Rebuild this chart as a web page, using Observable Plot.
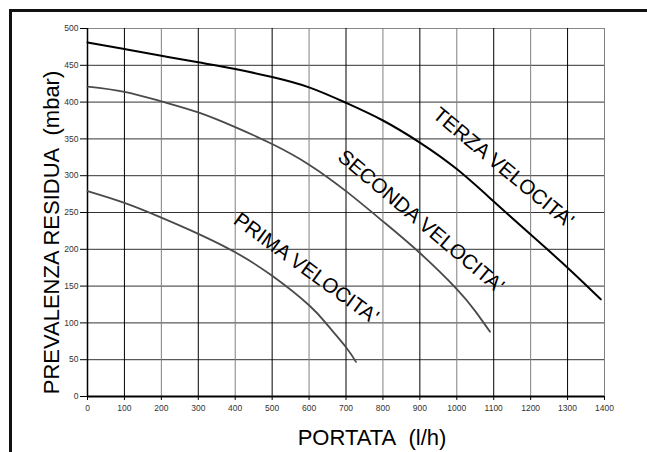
<!DOCTYPE html>
<html>
<head>
<meta charset="utf-8">
<script src="https://cdn.jsdelivr.net/npm/d3@7"></script>
<script src="https://cdn.jsdelivr.net/npm/@observablehq/plot@0.6"></script>
<style>
  html, body { margin: 0; padding: 0; background: #fff; overflow: hidden; }
  #wrap { position: relative; width: 647px; height: 452px; }
  #frame { position: absolute; left: 9px; top: 9px; width: 700px; height: 500px; border-top: 3px solid #111; border-left: 3px solid #111; }
  #chart { position: absolute; left: 0; top: 0; }
  #chart svg { background: transparent !important; }
</style>
</head>
<body>
<div id="wrap"><div id="frame"></div><div id="chart"></div></div>
<script>
// Data (portata l/h -> prevalenza mbar)
const primaX = [0, 100, 200, 300, 400, 500, 600, 650, 700, 727];
const primaY = [279, 263, 243, 221, 196, 164, 124, 97, 67, 47];
const secondaX = [0, 100, 200, 300, 400, 500, 600, 700, 800, 900, 1000, 1050, 1090];
const secondaY = [421, 414, 401, 386, 366, 343, 315, 279, 238, 195, 146, 116, 88];
const terzaX = [0, 100, 200, 300, 400, 500, 600, 700, 800, 900, 1000, 1100, 1200, 1300, 1390];
const terzaY = [481, 472, 463, 454, 445, 434, 420, 399, 375, 345, 309, 265, 220, 175, 132];
const xTicks = [0, 100, 200, 300, 400, 500, 600, 700, 800, 900, 1000, 1100, 1200, 1300, 1400];
const yTicks = [0, 50, 100, 150, 200, 250, 300, 350, 400, 450, 500];
const seriesLabels = ["PRIMA VELOCITA'", "SECONDA VELOCITA'", "TERZA VELOCITA'"];
const xTitle = "PORTATA\u00a0\u00a0(l/h)";
const yTitle = "PREVALENZA RESIDUA\u00a0\u00a0(mbar)";

const toRows = (xs, ys) => xs.map((x, i) => ({x, y: ys[i]}));
const prima = toRows(primaX, primaY);
const seconda = toRows(secondaX, secondaY);
const terza = toRows(terzaX, terzaY);

const labelRows = [
  {x: 592, y: 174, r: 36, t: seriesLabels[0]},
  {x: 903, y: 238, r: 40, t: seriesLabels[1]},
  {x: 1126, y: 311, r: 39.5, t: seriesLabels[2]}
];

const font = "'Liberation Sans', Arial, Helvetica, sans-serif";

const chart = Plot.plot({
  width: 647,
  height: 452,
  marginLeft: 87,
  marginRight: 43,
  marginTop: 28,
  marginBottom: 56,
  style: {fontFamily: font, background: "transparent"},
  x: {domain: [0, 1400]},
  y: {domain: [0, 500]},
  marks: [
    // grid
    Plot.ruleY(yTicks.filter(d => d > 0), {stroke: d => d === 500 ? "#888" : "#333", strokeWidth: 1, strokeOpacity: 1}),
    Plot.ruleX(xTicks.filter(d => d > 0), {y1: 0, y2: 500, stroke: d => (d / 100) % 2 === 1 ? "#000" : "#808080", strokeWidth: 1, strokeOpacity: 1}),
    // axes
    Plot.axisY({ticks: yTicks, tickFormat: d => String(d), tickSize: 7, tickPadding: 2, fontSize: 8.5, fill: "#333", label: null}),
    Plot.axisX({ticks: xTicks, tickFormat: d => String(d), tickSize: 4, tickPadding: 4, fontSize: 8.5, fill: "#333", label: null}),
    Plot.ruleY([0], {stroke: "#000", strokeWidth: 2}),
    Plot.ruleX([0], {y1: 0, y2: 500, stroke: "#000", strokeWidth: 1.5}),
    // curves
    Plot.line(prima, {x: "x", y: "y", stroke: "#4a4a4a", strokeWidth: 1.8, curve: "natural"}),
    Plot.line(seconda, {x: "x", y: "y", stroke: "#4a4a4a", strokeWidth: 1.8, curve: "natural"}),
    Plot.line(terza, {x: "x", y: "y", stroke: "#000", strokeWidth: 2, curve: "natural"}),
    // curve labels
    Plot.text(labelRows, {x: "x", y: "y", text: "t", rotate: "r", fontSize: 20.5, fill: "#000", textAnchor: "middle", lineAnchor: "middle"}),
    // titles
    Plot.text([yTitle], {frameAnchor: "left", dx: -36, dy: 20, rotate: -90, fontSize: 22, fill: "#000", textAnchor: "middle", lineAnchor: "middle"}),
    Plot.text([xTitle], {frameAnchor: "bottom", dx: 26, dy: 41, fontSize: 22, fill: "#000", textAnchor: "middle", lineAnchor: "middle"})
  ]
});
document.getElementById("chart").appendChild(chart);
</script>
</body>
</html>
